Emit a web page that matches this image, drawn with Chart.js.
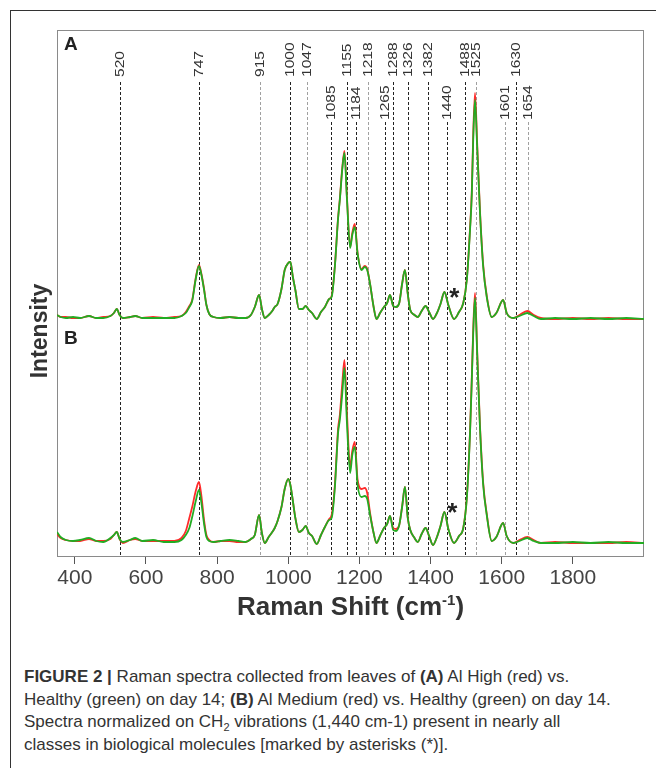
<!DOCTYPE html>
<html>
<head>
<meta charset="utf-8">
<script src="https://cdn.jsdelivr.net/npm/chart.js@4.4.0/dist/chart.umd.min.js"></script>
<style>
    html, body { margin: 0; padding: 0; background: #fff; width: 656px; height: 768px; overflow: hidden; }
    #frame { position: absolute; left: 10px; top: 10px; width: 700px; height: 800px; border: 1px solid #333; box-sizing: border-box; }
    #wrap { position: absolute; left: 0; top: 0; width: 656px; height: 640px; }
    #caption {
        position: absolute; left: 24px; top: 666px;
        font-family: 'Liberation Sans', Arial, sans-serif; font-size: 17px; line-height: 22.5px;
        color: #333; white-space: nowrap;
    }
    #caption sub { font-size: 11px; line-height: 0; }
</style>
</head>
<body>
<div id="frame"></div>
<div id="wrap"><canvas id="chart" width="656" height="640"></canvas></div>
<div id="caption">
    <b>FIGURE 2 |</b> Raman spectra collected from leaves of <b>(A)</b> Al High (red) vs.<br>
    Healthy (green) on day 14; <b>(B)</b> Al Medium (red) vs. Healthy (green) on day 14.<br>
    Spectra normalized on CH<sub>2</sub> vibrations (1,440 cm-1) present in nearly all<br>
    classes in biological molecules [marked by asterisks (*)].
</div>
<script>
// Raman shift (cm-1) sample points, shared by all four spectra
const SHIFT = [350, 360, 375, 395, 415, 440, 460, 480, 500, 510,
    518, 526, 535, 555, 570, 590, 620, 650, 680, 700,
    712, 722, 730, 740, 749, 756, 763, 770, 778, 790,
    810, 835, 860, 880, 895, 906, 918, 926, 934, 945,
    955, 962, 970, 981, 990, 1000, 1006, 1013, 1020, 1030,
    1040, 1049, 1058, 1067, 1080, 1092, 1103, 1115, 1122, 1131,
    1140, 1145, 1152, 1158, 1165, 1174, 1180, 1187, 1195, 1206,
    1215, 1222, 1230, 1240, 1248, 1258, 1269, 1278, 1286, 1295,
    1303, 1312, 1320, 1328, 1336, 1343, 1355, 1364, 1375, 1386,
    1396, 1407, 1418, 1428, 1439, 1450, 1466, 1480, 1492, 1502,
    1511, 1516, 1520, 1525, 1531, 1539, 1548, 1558, 1572, 1585,
    1604, 1614, 1633, 1650, 1672, 1690, 1710, 1750, 1800, 1850,
    1900, 1950, 2000];

// intensities above each panel's baseline (arbitrary units)
const A_GREEN = [4, 2, 1, 2, 1, 3, 1, 1, 3, 6,
    10, 4, 1, 2, 3, 1, 1, 1, 1, 3,
    6, 12, 18, 40, 53, 44, 30, 14, 5, 2,
    1, 2, 1, 1, 4, 12, 24, 10, 1, 4,
    8, 12, 15, 30, 49, 56, 57, 42, 29, 10,
    10, 13, 9, 6, 0, 7, 12, 20, 22, 52,
    100, 119, 150, 166, 120, 71, 84, 92, 65, 49,
    52, 49, 35, 12, 0, 6, 12, 16, 24, 13,
    12, 16, 35, 49, 25, 9, 4, 2, 8, 13,
    7, 0, 6, 15, 27, 14, 0, 7, 16, 39,
    89, 125, 180, 219, 172, 106, 52, 22, 2, 6,
    19, 6, 1, 3, 6, 3, 0, 1, 0, 1,
    0, 1, 0];
const A_RED = [4, 2, 2, 1, 1, 3, 1, 2, 3, 6,
    10, 4, 1, 2, 3, 1, 2, 1, 2, 3,
    7, 13, 19, 41, 54, 45, 31, 14, 5, 2,
    1, 2, 1, 1, 4, 12, 24, 10, 1, 4,
    8, 12, 15, 30, 49, 56, 57, 42, 29, 10,
    10, 13, 9, 6, 0, 7, 12, 20, 23, 53,
    101, 120, 152, 168, 122, 72, 86, 95, 66, 50,
    53, 50, 35, 12, 0, 6, 12, 16, 24, 13,
    12, 16, 35, 49, 25, 9, 4, 2, 8, 13,
    7, 0, 6, 15, 27, 14, 0, 7, 16, 40,
    91, 128, 185, 226, 176, 108, 54, 23, 2, 6,
    19, 6, 1, 4, 8, 4, 1, 0, 1, 0,
    1, 0, 0];
const B_GREEN = [11, 6, 3, 2, 3, 5, 2, 1, 5, 8,
    11, 4, 1, 3, 5, 2, 3, 1, 1, 3,
    8, 15, 26, 42, 53, 40, 20, 6, 2, 1,
    2, 3, 2, 1, 4, 8, 28, 10, 0, 6,
    11, 15, 22, 36, 54, 64, 58, 42, 25, 11,
    13, 17, 10, 7, -1, 8, 16, 23, 25, 55,
    110, 123, 150, 175, 120, 70, 88, 96, 58, 46,
    47, 44, 28, 10, 0, 7, 15, 19, 27, 13,
    12, 18, 36, 56, 25, 13, 5, 1, 9, 15,
    7, -2, 6, 17, 31, 14, 0, 7, 15, 45,
    110, 163, 210, 245, 190, 115, 58, 28, 2, 6,
    20, 7, 0, 2, 5, 2, 0, 0, 1, 0,
    1, 0, 0];
const B_RED = [9, 5, 3, 2, 2, 4, 2, 2, 4, 8,
    11, 4, 0, 3, 4, 2, 2, 2, 2, 5,
    12, 25, 36, 52, 61, 47, 24, 8, 3, 1,
    2, 2, 1, 1, 4, 8, 28, 10, 0, 6,
    11, 15, 22, 36, 54, 64, 58, 42, 25, 11,
    13, 17, 10, 7, -1, 8, 16, 24, 28, 58,
    114, 128, 160, 183, 130, 76, 92, 101, 63, 54,
    55, 50, 30, 10, 0, 7, 15, 19, 27, 15,
    14, 18, 36, 56, 25, 13, 5, 1, 9, 15,
    7, -2, 6, 17, 31, 14, 0, 7, 15, 46,
    112, 166, 214, 250, 193, 117, 60, 29, 2, 6,
    20, 7, 0, 3, 6, 3, 0, 1, 0, 0,
    0, 1, 0];

const TICKS = [400, 600, 800, 1000, 1200, 1400, 1600, 1800];

// marked bands: label text and where the dashed line sits on the axis
const BAND_LABELS = ['520', '747', '915', '1000', '1047', '1085', '1155', '1184', '1218', '1265',
    '1288', '1326', '1382', '1440', '1488', '1525', '1601', '1630', '1654'];
const BAND_POS = [528, 750, 920, 1006, 1052, 1121, 1165, 1190, 1224, 1273,
    1295, 1337, 1394, 1445, 1497, 1527, 1609, 1639, 1674];
const LOWER_ROW = ['1085', '1184', '1265', '1440', '1601', '1654'];
const GREY_BANDS = ['915', '1047', '1218', '1525', '1601', '1654'];

const OFFSET_A = 238;   // panel A stacked above panel B
const OFFSET_B = 14;
const STAR_SHIFT = 1439;  // CH2 band used for normalisation

const FONT = '"Liberation Sans", Arial, sans-serif';

const toPoints = (vals, off) => SHIFT.map((x, i) => ({x: x, y: vals[i] + off}));

const decor = {
    id: 'decor',
    beforeDatasetsDraw(chart) {
        const {ctx, chartArea: a, scales: {x}} = chart;
        ctx.save();
        ctx.lineWidth = 1;
        ctx.setLineDash([3, 2]);
        BAND_LABELS.forEach((lab, i) => {
            const px = Math.round(x.getPixelForValue(BAND_POS[i])) + 0.5;
            const lower = LOWER_ROW.includes(lab);
            const lineTop = a.top + (lower ? 92 : 52);
            ctx.strokeStyle = GREY_BANDS.includes(lab) ? '#a0a0a0' : '#222';
            ctx.beginPath();
            ctx.moveTo(px, lineTop);
            ctx.lineTo(px, a.bottom);
            ctx.stroke();

            ctx.save();
            ctx.translate(px, a.top + (lower ? 90 : 47));
            ctx.rotate(-Math.PI / 2);
            ctx.scale(1.2, 1);
            ctx.fillStyle = '#333';
            ctx.font = '13px ' + FONT;
            ctx.textAlign = 'left';
            ctx.textBaseline = 'middle';
            ctx.fillText(lab, 0, 0);
            ctx.restore();
        });
        ctx.setLineDash([]);
        ctx.strokeStyle = '#8a8a8a';
        ctx.strokeRect(a.left + 0.5, a.top + 0.5, a.right - a.left - 1, a.bottom - a.top - 1);
        ctx.restore();
    },
    afterDraw(chart) {
        const {ctx, chartArea: a, scales: {x, y}} = chart;
        ctx.save();
        ctx.fillStyle = '#222';

        // panel letters
        ctx.font = 'bold 19px ' + FONT;
        ctx.textAlign = 'left';
        ctx.textBaseline = 'alphabetic';
        ctx.fillText('A', a.left + 7, a.top + 20);
        ctx.fillText('B', a.left + 7, a.top + 314);

        // asterisks next to the 1440 band
        const k = SHIFT.indexOf(STAR_SHIFT);
        ctx.font = 'bold 26px ' + FONT;
        ctx.textAlign = 'center';
        const sx = x.getPixelForValue(STAR_SHIFT) + 10;
        ctx.fillText('*', sx, y.getPixelForValue(A_GREEN[k] + OFFSET_A) + 14);
        ctx.fillText('*', sx - 2, y.getPixelForValue(B_GREEN[k] + OFFSET_B) + 9);

        // y title
        ctx.save();
        ctx.translate(47, 331);
        ctx.rotate(-Math.PI / 2);
        ctx.font = 'bold 23px ' + FONT;
        ctx.fillStyle = '#333';
        ctx.fillText('Intensity', 0, 0);
        ctx.restore();

        // x title with superscript
        const main = 'Raman Shift (cm', sup = '-1', close = ')';
        const big = 'bold 26px ' + FONT, small = 'bold 15px ' + FONT;
        ctx.font = big;
        const w1 = ctx.measureText(main).width, w3 = ctx.measureText(close).width;
        ctx.font = small;
        const w2 = ctx.measureText(sup).width;
        let tx = (a.left + a.right) / 2 - (w1 + w2 + w3) / 2;
        const ty = a.bottom + 58;
        ctx.fillStyle = '#333';
        ctx.textAlign = 'left';
        ctx.font = big;
        ctx.fillText(main, tx, ty);
        ctx.font = small;
        ctx.fillText(sup, tx + w1, ty - 10);
        ctx.font = big;
        ctx.fillText(close, tx + w1 + w2, ty);
        ctx.restore();
    }
};

new Chart(document.getElementById('chart').getContext('2d'), {
    type: 'line',
    data: {
        datasets: [
            {data: toPoints(A_GREEN, OFFSET_A), borderColor: '#22ac22'},
            {data: toPoints(B_GREEN, OFFSET_B), borderColor: '#22ac22'},
            {data: toPoints(A_RED, OFFSET_A), borderColor: '#ff2b2b'},
            {data: toPoints(B_RED, OFFSET_B), borderColor: '#ff2b2b'}
        ]
    },
    options: {
        responsive: false,
        animation: false,
        devicePixelRatio: 1,
        layout: {padding: {left: 57, top: 30, right: 12, bottom: 0}},
        plugins: {legend: {display: false}, tooltip: {enabled: false}},
        elements: {
            point: {radius: 0},
            line: {borderWidth: 1.8, cubicInterpolationMode: 'monotone', fill: false}
        },
        scales: {
            x: {
                type: 'linear',
                min: 350,
                max: 2000,
                afterBuildTicks: (s) => { s.ticks = TICKS.map(v => ({value: v})); },
                afterFit: (s) => { s.height = 83; },
                grid: {drawOnChartArea: false, tickLength: 7, tickColor: '#555'},
                border: {display: false},
                ticks: {
                    font: {family: 'Liberation Sans', size: 21},
                    color: '#444',
                    padding: 2,
                    maxRotation: 0,
                    autoSkip: false,
                    callback: (v) => String(v)
                }
            },
            y: {display: false, min: 0, max: 527}
        }
    },
    plugins: [decor]
});
</script>
</body>
</html>
